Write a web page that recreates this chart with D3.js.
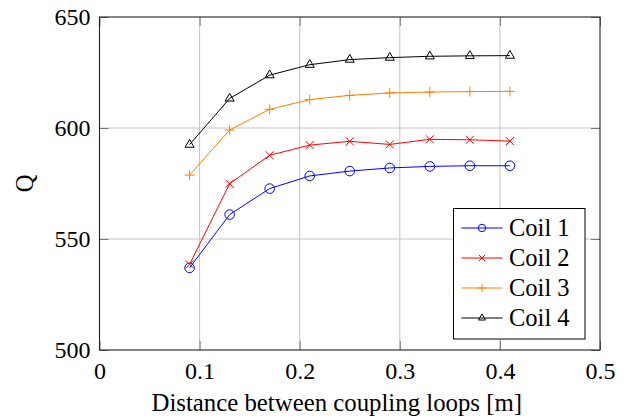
<!DOCTYPE html>
<html>
<head>
<meta charset="utf-8">
<script src="https://cdn.jsdelivr.net/npm/d3@7"></script>
<style>
    body { margin: 0; background: #fff; }
    svg text { font-family: "Liberation Serif", "Times New Roman", serif; fill: #000; }
</style>
</head>
<body>
<script>
// data
var distance = [0.09, 0.13, 0.17, 0.21, 0.25, 0.29, 0.33, 0.37, 0.41];
var coil1 = [537, 561, 572.7, 578.4, 580.6, 582, 582.7, 583, 583];
var coil2 = [538.6, 574.9, 587.7, 592.3, 594, 592.6, 594.9, 594.7, 594.1];
var coil3 = [578.8, 599.1, 608.4, 612.8, 614.7, 615.8, 616.2, 616.4, 616.5];
var coil4 = [592.5, 613.3, 623.8, 628.5, 630.8, 631.7, 632.3, 632.5, 632.6];
var seriesNames = ["Coil 1", "Coil 2", "Coil 3", "Coil 4"];
var xTicks = [0, 0.1, 0.2, 0.3, 0.4, 0.5];
var yTicks = [500, 550, 600, 650];

var serif = "'Liberation Serif', 'Times New Roman', serif";

// set the dimensions and margins of the graph
var margin = {
        top: 17,
        right: 29,
        bottom: 68,
        left: 99.5
    },
    width = 629 - margin.left - margin.right,
    height = 418 - margin.top - margin.bottom;

var x = d3.scaleLinear().domain([0, 0.5]).range([0, width]);
var y = d3.scaleLinear().domain([500, 650]).range([height, 0]);

var series = [
    { name: seriesNames[0], values: coil1, color: "#0000ff", mark: "circle" },
    { name: seriesNames[1], values: coil2, color: "#ff0000", mark: "cross" },
    { name: seriesNames[2], values: coil3, color: "#ff8000", mark: "plus" },
    { name: seriesNames[3], values: coil4, color: "#000000", mark: "triangle" }
];

var svg = d3.select("body").append("svg")
    .attr("width", 629)
    .attr("height", 418)
    .append("g")
    .attr("transform", "translate(" + margin.left + "," + margin.top + ")");

// grid lines
svg.append("g")
    .selectAll("line")
    .data(xTicks.slice(1, -1))
    .enter().append("line")
    .attr("x1", function(d) { return x(d); })
    .attr("x2", function(d) { return x(d); })
    .attr("y1", 0)
    .attr("y2", height)
    .style("stroke", "#c4c4c4")
    .style("stroke-width", 1);

svg.append("g")
    .selectAll("line")
    .data(yTicks.slice(1, -1))
    .enter().append("line")
    .attr("x1", 0)
    .attr("x2", width)
    .attr("y1", function(d) { return y(d); })
    .attr("y2", function(d) { return y(d); })
    .style("stroke", "#c4c4c4")
    .style("stroke-width", 1);

// axes: inner ticks on all four sides
var tickLen = 9;
var xAxis = svg.append("g")
    .attr("transform", "translate(0," + height + ")")
    .call(d3.axisBottom(x).tickValues(xTicks).tickSize(-tickLen).tickPadding(12)
        .tickFormat(function(d) { return d === 0 ? "0" : d3.format(".1f")(d); }));
var yAxis = svg.append("g")
    .call(d3.axisLeft(y).tickValues(yTicks).tickSize(-tickLen).tickPadding(9));
var xTop = svg.append("g")
    .call(d3.axisTop(x).tickValues(xTicks).tickSize(-tickLen).tickFormat(""));
var yRight = svg.append("g")
    .attr("transform", "translate(" + width + ",0)")
    .call(d3.axisRight(y).tickValues(yTicks).tickSize(-tickLen).tickFormat(""));

[xAxis, yAxis, xTop, yRight].forEach(function(a) {
    a.attr("font-family", null).attr("font-size", null);
    a.select(".domain").remove();
    a.selectAll(".tick line").style("stroke", "#777");
    a.selectAll("text").style("font-size", "24px").style("font-family", serif);
});

// frame
svg.append("rect")
    .attr("width", width)
    .attr("height", height)
    .style("fill", "none")
    .style("stroke", "#222")
    .style("stroke-width", 1.1);

// marker drawing (k scales the marker size)
function drawMark(g, type, color, cx, cy, k) {
    k = k || 1;
    if (type === "circle") {
        g.append("circle").attr("cx", cx).attr("cy", cy).attr("r", 4.8 * k)
            .style("fill", "none").style("stroke", color).style("stroke-width", 1);
    } else if (type === "cross") {
        var s = 4 * k;
        g.append("path")
            .attr("d", "M" + (cx - s) + "," + (cy - s) + "L" + (cx + s) + "," + (cy + s) +
                "M" + (cx - s) + "," + (cy + s) + "L" + (cx + s) + "," + (cy - s))
            .style("stroke", color).style("stroke-width", 1);
    } else if (type === "plus") {
        var p = 5 * k;
        g.append("path")
            .attr("d", "M" + (cx - p) + "," + cy + "L" + (cx + p) + "," + cy +
                "M" + cx + "," + (cy - p) + "L" + cx + "," + (cy + p))
            .style("stroke", color).style("stroke-width", 1);
    } else {
        var r = 5.2 * k;
        g.append("path")
            .attr("d", "M" + cx + "," + (cy - r) +
                "L" + (cx + r * 0.866) + "," + (cy + r / 2) +
                "L" + (cx - r * 0.866) + "," + (cy + r / 2) + "Z")
            .style("fill", "none")
            .style("stroke", color).style("stroke-width", 1);
    }
}

var line = d3.line()
    .x(function(d) { return x(d[0]); })
    .y(function(d) { return y(d[1]); });

series.forEach(function(s) {
    var pts = distance.map(function(d, i) { return [d, s.values[i]]; });
    svg.append("path")
        .datum(pts)
        .attr("d", line)
        .style("fill", "none")
        .style("stroke", s.color)
        .style("stroke-width", 1);
    var mg = svg.append("g");
    pts.forEach(function(p) {
        drawMark(mg, s.mark, s.color, x(p[0]), y(p[1]));
    });
});

// legend
var legend = svg.append("g")
    .attr("transform", "translate(" + (453.5 - margin.left) + "," + (208.5 - margin.top) + ")");
legend.append("rect")
    .attr("width", 131.5)
    .attr("height", 130.5)
    .style("fill", "#fff")
    .style("stroke", "#000")
    .style("stroke-width", 1);
series.forEach(function(s, i) {
    var ly = 19.5 + i * 30;
    legend.append("line")
        .attr("x1", 8).attr("x2", 49)
        .attr("y1", ly).attr("y2", ly)
        .style("stroke", s.color).style("stroke-width", 1);
    drawMark(legend, s.mark, s.color, 28.5, ly, 0.78);
    legend.append("text")
        .attr("x", 55.5)
        .attr("y", ly)
        .attr("dy", "0.33em")
        .style("font-size", "24.5px")
        .style("font-family", serif)
        .text(s.name);
});

// axis labels
svg.append("text")
    .attr("x", width / 2 - 13)
    .attr("y", height + 61)
    .attr("text-anchor", "middle")
    .style("font-size", "24.8px")
    .style("font-family", serif)
    .text("Distance between coupling loops [m]");

svg.append("text")
    .attr("transform", "translate(" + (33 - margin.left) + "," + (height / 2) + ") rotate(-90)")
    .attr("text-anchor", "middle")
    .style("font-size", "24.5px")
    .style("font-family", serif)
    .text("Q");
</script>
</body>
</html>
